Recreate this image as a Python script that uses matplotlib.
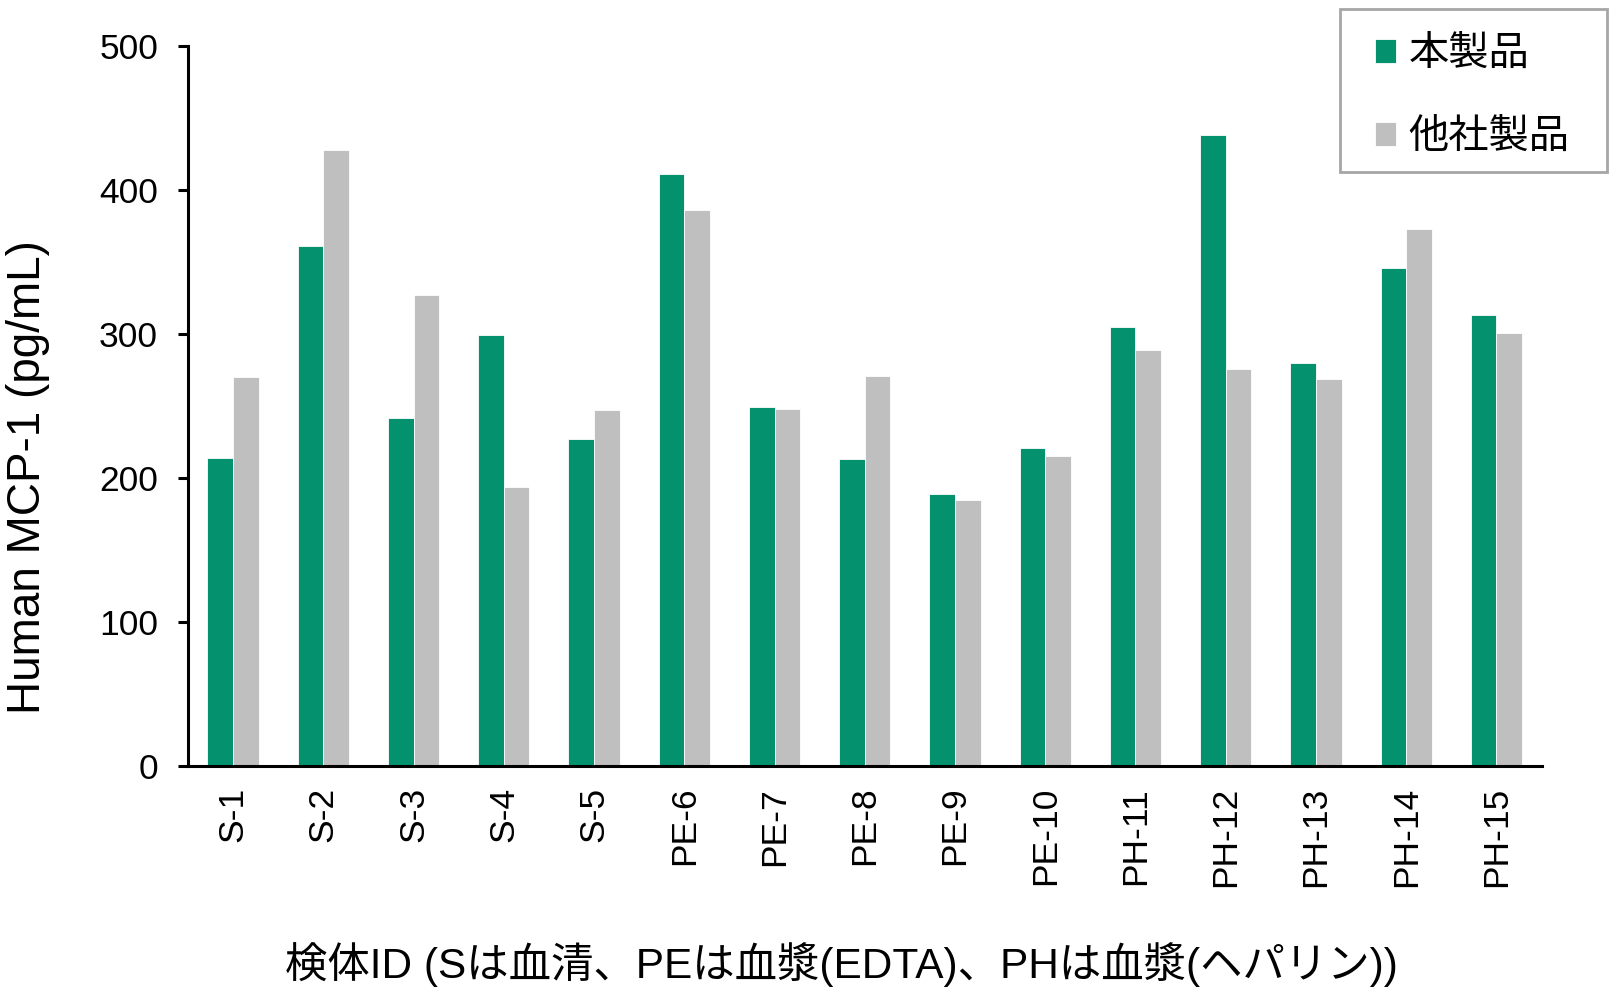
import numpy as np
import matplotlib
matplotlib.use('Agg')
import matplotlib.pyplot as plt
from matplotlib.patches import Rectangle

plt.rcParams['font.family'] = ['Liberation Sans', 'Noto Sans CJK JP']

# data
samples = ['S-1', 'S-2', 'S-3', 'S-4', 'S-5', 'PE-6', 'PE-7', 'PE-8', 'PE-9', 'PE-10',
           'PH-11', 'PH-12', 'PH-13', 'PH-14', 'PH-15']
ours = [214, 361, 242, 299, 227, 411, 249, 213, 189, 221, 305, 438, 280, 346, 313]
others = [270, 428, 327, 194, 247, 386, 248, 271, 185, 215, 289, 276, 269, 373, 301]
series_names = ['本製品', '他社製品']
yticks = [0, 100, 200, 300, 400, 500]

green = '#03916E'
grey = '#BFBFBF'

fig = plt.figure(figsize=(16.2, 10), dpi=100)
ax = fig.add_axes([0.116, 0.234, 0.8356, 0.72])

x = np.arange(len(samples))
w = 0.285
b1 = ax.bar(x - w / 2, ours, w, color=green, edgecolor='white', linewidth=0.6, label=series_names[0])
b2 = ax.bar(x + w / 2, others, w, color=grey, edgecolor='white', linewidth=0.6, label=series_names[1])

ax.set_xlim(-0.5, len(samples) - 0.5)
ax.set_ylim(0, 500)
ax.set_yticks(yticks)
ax.set_xticks(x)
ax.set_xticklabels(samples, rotation=90, fontsize=25.5)
ax.tick_params(axis='x', length=0, pad=15)
ax.tick_params(axis='y', length=7.5, width=2.2, pad=14, labelsize=25.5, direction='out')

for s in ['top', 'right']:
    ax.spines[s].set_visible(False)
for s in ['left', 'bottom']:
    ax.spines[s].set_linewidth(2.2)
    ax.spines[s].set_color('black')

ax.set_ylabel('Human MCP-1 (pg/mL)', fontsize=33)
ax.yaxis.set_label_coords(-0.102, 0.401)
ax.set_xlabel('検体ID (Sは血清、PEは血漿(EDTA)、PHは血漿(ヘパリン))', fontsize=30.5)
ax.xaxis.set_label_coords(0.483, -0.245)

# legend with a separate frame
leg = ax.legend(handles=[b1, b2], loc='upper left', bbox_to_anchor=(1375 / 1620, 1 - 35 / 1000),
                bbox_transform=fig.transFigure, frameon=False, fontsize=29,
                handlelength=0.53, handleheight=0.53, handletextpad=0.3,
                labelspacing=1.12, borderpad=0, borderaxespad=0)
fig.patches.append(Rectangle((1340 / 1620, 1 - 172 / 1000), 267 / 1620, 163 / 1000,
                             transform=fig.transFigure, fill=False,
                             edgecolor='#A6A6A6', linewidth=2))

fig.savefig('out.png', dpi=100)
